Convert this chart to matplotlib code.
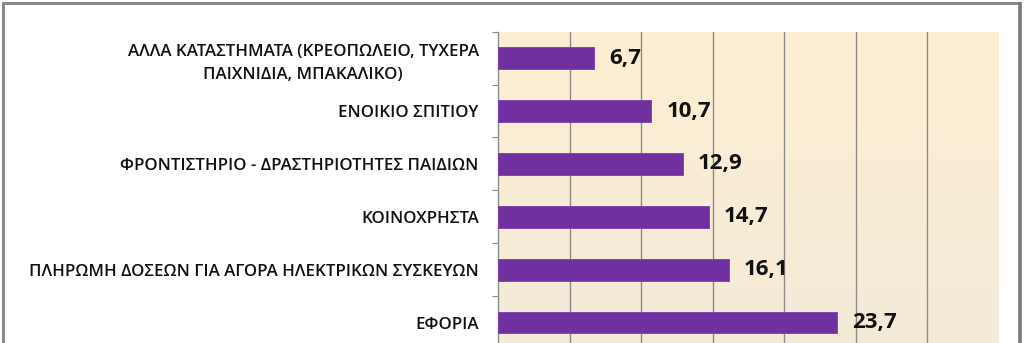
"""Horizontal bar chart: household expenses (Greek labels)."""

import matplotlib

matplotlib.use("Agg")

import matplotlib.pyplot as plt
import numpy as np
from matplotlib.lines import Line2D
from matplotlib.colors import LinearSegmentedColormap

categories = [
    "ΑΛΛΑ ΚΑΤΑΣΤΗΜΑΤΑ (ΚΡΕΟΠΩΛΕΙΟ, ΤΥΧΕΡΑ\nΠΑΙΧΝΙΔΙΑ, ΜΠΑΚΑΛΙΚΟ)",
    "ΕΝΟΙΚΙΟ ΣΠΙΤΙΟΥ",
    "ΦΡΟΝΤΙΣΤΗΡΙΟ - ΔΡΑΣΤΗΡΙΟΤΗΤΕΣ ΠΑΙΔΙΩΝ",
    "ΚΟΙΝΟΧΡΗΣΤΑ",
    "ΠΛΗΡΩΜΗ ΔΟΣΕΩΝ ΓΙΑ ΑΓΟΡΑ ΗΛΕΚΤΡΙΚΩΝ ΣΥΣΚΕΥΩΝ",
    "ΕΦΟΡΙΑ",
]
values = [6.7, 10.7, 12.9, 14.7, 16.1, 23.7]
value_labels = ["6,7", "10,7", "12,9", "14,7", "16,1", "23,7"]
x_max = 35
x_step = 5

plt.rcParams["font.family"] = ["Open Sans", "DejaVu Sans"]

W, H = 1024, 343
fig = plt.figure(figsize=(W / 100, H / 100), dpi=100)
fig.patch.set_facecolor("white")

# plot area in pixels (bottom runs past the crop)
left, right, top, bottom = 498.3, 998.8, 31.7, 349.0
ax = fig.add_axes([left / W, (H - bottom) / H, (right - left) / W, (bottom - top) / H])

n = len(categories)
y = np.arange(n)

# vertical gradient background
grad = np.linspace(0, 1, 256).reshape(-1, 1)
cmap = LinearSegmentedColormap.from_list("bg", ["#FEEFD3", "#F3EAD9"])
ax.imshow(grad, aspect="auto", cmap=cmap, extent=[0, x_max, n - 0.5, -0.5],
          zorder=0, interpolation="bilinear")

ax.barh(y, values, height=0.41, color="#7030A0", edgecolor="#7E3CB0",
        linewidth=0.6, zorder=3)

for yi, v, lab in zip(y, values, value_labels):
    ax.annotate(lab, (v, yi), xytext=(11, 0), textcoords="offset points",
                ha="left", va="center", fontsize=16, fontweight="bold",
                color="#111111", zorder=4)

ax.set_xlim(0, x_max)
ax.set_ylim(n - 0.5, -0.5)

for gx in np.arange(x_step, x_max, x_step):
    ax.axvline(gx, color="#8C8A84", linewidth=1.0, zorder=1)

ax.set_yticks(y)
ax.set_yticklabels(categories, fontsize=12.2, fontweight="semibold",
                   color="#111111", multialignment="center", linespacing=1.55)
ax.set_yticks(np.arange(n) - 0.5, minor=True)
ax.tick_params(axis="y", which="major", length=0, pad=14)
ax.tick_params(axis="y", which="minor", length=4, width=0.8, color="#8C8C8C",
               direction="out")
ax.tick_params(axis="x", bottom=False, labelbottom=False)

for side in ("top", "right", "bottom"):
    ax.spines[side].set_visible(False)
ax.spines["left"].set_color("#8C8C8C")
ax.spines["left"].set_linewidth(1.0)

# chart frame (bottom edge is cropped off)
px = lambda v: v / W
py = lambda v: 1 - v / H
frame = dict(color="#8A8A8A", linewidth=2.2, solid_capstyle="butt")
fig.add_artist(Line2D([px(3), px(3)], [py(2), 0], transform=fig.transFigure, **frame))
fig.add_artist(Line2D([px(2), px(1021)], [py(3), py(3)], transform=fig.transFigure, **frame))
fig.add_artist(Line2D([px(1020), px(1020)], [py(2), 0], transform=fig.transFigure,
                      color="#7A7A7A", linewidth=2.6, solid_capstyle="butt"))

fig.savefig("out.png", dpi=100)
